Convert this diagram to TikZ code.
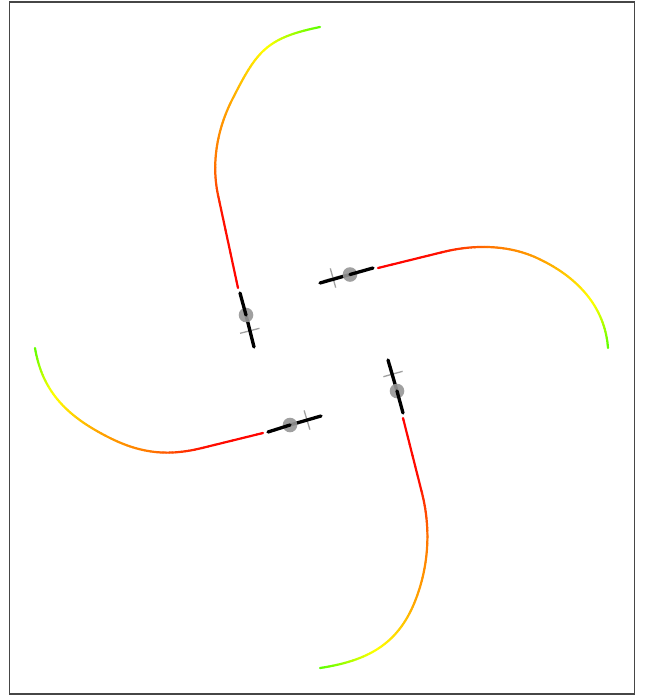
\documentclass[tikz,border=0pt]{standalone}

\definecolor{framegray}{RGB}{70,70,70}
\definecolor{jointgray}{RGB}{150,150,150}
\definecolor{axlegray}{RGB}{160,160,160}

% colour of a track at fraction #1 of its length: red -> orange -> yellow -> green
\newcommand\trackcolor[1]{%
  \pgfmathsetmacro\trkf{#1}%
  \ifdim\trkf pt<0.22pt \pgfmathsetmacro\trkh{18.2*\trkf}%
  \else\ifdim\trkf pt<0.4pt \pgfmathsetmacro\trkh{4+(\trkf-0.22)*133.3}%
  \else\ifdim\trkf pt<0.6pt \pgfmathsetmacro\trkh{28+(\trkf-0.4)*55}%
  \else\ifdim\trkf pt<0.84pt \pgfmathsetmacro\trkh{39+(\trkf-0.6)*100}%
  \else \pgfmathsetmacro\trkh{63+(\trkf-0.84)*219}%
  \fi\fi\fi\fi
  \ifdim\trkh pt<60pt
    \def\trkr{1}\pgfmathsetmacro\trkg{\trkh/60}%
  \else
    \pgfmathsetmacro\trkr{max(0,(120-\trkh)/60)}\def\trkg{1}%
  \fi
  \definecolor{trk}{rgb}{\trkr,\trkg,0}%
}

% one cubic piece of a track: #1 start, #2 #3 controls, #4 end (named coordinates),
% #5 #6 fraction of the track at start and end, #7 number of samples
\newcommand\trackpiece[7]{%
  \foreach \k in {1,...,#7}{%
    \pgfmathsetmacro\trta{(\k-1)/#7}%
    \pgfmathsetmacro\trtb{\k/#7}%
    \trackcolor{#5+(#6-#5)*(\k-0.5)/#7}%
    \pgfcoordinate{trkp}{\pgfpointcurveattime{\trta}{\pgfpointanchor{#1}{center}}{\pgfpointanchor{#2}{center}}{\pgfpointanchor{#3}{center}}{\pgfpointanchor{#4}{center}}}%
    \pgfcoordinate{trkq}{\pgfpointcurveattime{\trtb}{\pgfpointanchor{#1}{center}}{\pgfpointanchor{#2}{center}}{\pgfpointanchor{#3}{center}}{\pgfpointanchor{#4}{center}}}%
    \draw[trk, line width=2.2pt, line cap=round] (trkp) -- (trkq);
  }%
}

\tikzset{
  body/.style={line width=3.3pt, line cap=round, black},
  joint/.style={fill=jointgray, fill opacity=0.9},
  axle/.style={line width=1.3pt, axlegray},
}

\begin{document}
\begin{tikzpicture}[x=1pt, y=-1pt]
  \useasboundingbox (0,0) rectangle (646,697);
  \draw[framegray, line width=1.3pt] (9.5,2) rectangle (634.5,694);

  % track A (top)
  \coordinate (a0) at (238,288);  \coordinate (a1) at (218,195);
  \coordinate (ac1) at (210.7,160.7); \coordinate (ac2) at (218.5,126.7);
  \coordinate (a2) at (232,100);
  \coordinate (ac3) at (256.8,51); \coordinate (ac4) at (266.1,38);
  \coordinate (a3) at (320,27);
  \trackpiece{a0}{a0}{a1}{a1}{0}{0.30}{12}
  \trackpiece{a1}{ac1}{ac2}{a2}{0.30}{0.61}{30}
  \trackpiece{a2}{ac3}{ac4}{a3}{0.61}{1}{36}

  % track B (right)
  \coordinate (b0) at (378,268);  \coordinate (b1) at (443,252);
  \coordinate (bc1) at (474,244.4); \coordinate (bc2) at (508,244.6);
  \coordinate (b2) at (537,258);
  \coordinate (bc3) at (577.9,276.8); \coordinate (bc4) at (605,307.1);
  \coordinate (b3) at (608,348);
  \trackpiece{b0}{b0}{b1}{b1}{0}{0.23}{10}
  \trackpiece{b1}{bc1}{bc2}{b2}{0.23}{0.57}{30}
  \trackpiece{b2}{bc3}{bc4}{b3}{0.57}{1}{36}

  % track C (bottom)
  \coordinate (c0) at (403,418);  \coordinate (c1) at (422,493);
  \coordinate (cc1) at (429.8,524); \coordinate (cc2) at (429.2,556.4);
  \coordinate (c2) at (420,587);
  \coordinate (cc3) at (404.1,639.6); \coordinate (cc4) at (374.4,659.8);
  \coordinate (c3) at (320,668);
  \trackpiece{c0}{c0}{c1}{c1}{0}{0.25}{10}
  \trackpiece{c1}{cc1}{cc2}{c2}{0.25}{0.55}{30}
  \trackpiece{c2}{cc3}{cc4}{c3}{0.55}{1}{36}

  % track D (left)
  \coordinate (d0) at (263,433);  \coordinate (d1) at (202,448);
  \coordinate (dc1) at (167,456.6); \coordinate (dc2) at (140,453.3);
  \coordinate (d2) at (108,437);
  \coordinate (dc3) at (67.9,416.6); \coordinate (dc4) at (42.4,392.4);
  \coordinate (d3) at (35,348);
  \trackpiece{d0}{d0}{d1}{d1}{0}{0.22}{10}
  \trackpiece{d1}{dc1}{dc2}{d2}{0.22}{0.56}{30}
  \trackpiece{d2}{dc3}{dc4}{d3}{0.56}{1}{36}

  % vehicle A (top)
  \draw[axle] (240.1,333.3) -- (259.5,328.3) (247.5,322.3) -- (252.5,341.7);
  \draw[body] (254,347) -- (246,315);
  \fill[joint] (246,315) circle (7.3pt);
  \draw[body] (246,315) -- (240,293);

  % vehicle B (right)
  \draw[axle] (330.3,268.4) -- (335.7,287.6) (342.6,275.3) -- (323.4,280.7);
  \draw[body] (320,283) -- (350,274.5);
  \fill[joint] (350,274.5) circle (7.3pt);
  \draw[body] (350,274.5) -- (373,268);

  % vehicle C (bottom)
  \draw[axle] (383.4,376.7) -- (402.6,371.3) (390.3,364.4) -- (395.7,383.6);
  \draw[body] (388,360) -- (397,391);
  \fill[joint] (397,391) circle (7.3pt);
  \draw[body] (397,391) -- (403,413);

  % vehicle D (left)
  \draw[axle] (304.1,410.4) -- (309.9,429.6) (297.4,422.9) -- (316.6,417.1);
  \draw[body] (321,416) -- (290,425);
  \fill[joint] (290,425) circle (7.3pt);
  \draw[body] (290,425) -- (268,432);
\end{tikzpicture}
\end{document}
